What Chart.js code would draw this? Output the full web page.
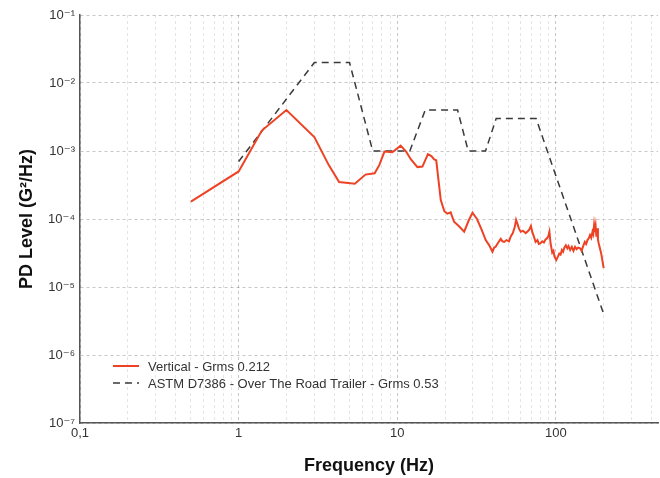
<!DOCTYPE html>
<html>
<head>
<meta charset="utf-8">
<script src="https://cdn.jsdelivr.net/npm/chart.js@4/dist/chart.umd.min.js"></script>
<style>
  html, body { margin: 0; padding: 0; background: #fff; }
  #wrap { width: 660px; height: 478px; }
</style>
</head>
<body>
<div id="wrap"><canvas id="psd"></canvas></div>
<script>
// measured vertical profile
const redFreq = [0.5, 1, 1.4, 2, 3, 3.7, 4.3, 5.4, 6.3, 7.2, 7.7, 8.3, 9.3, 10.5, 11.3, 12.2, 13.4, 14.4,
  15.6, 16.4, 17.1, 17.6, 18.8, 19.8, 20.7, 21.7, 22.8, 24.5, 26.4, 28.2, 29.8, 31.8, 34, 36.1, 38, 39.8,
  40.8, 41.7, 43, 44.9, 46, 47.2, 48.8, 50.6, 52, 53.5, 55, 56.1, 57.5, 58.5, 60, 62, 64.5, 66.5, 68, 69.6,
  71, 72.5, 74.5, 76.5, 78, 80, 82, 84, 86, 87.9, 89.5, 91, 92.5, 94.8, 96.5, 98, 100.5, 103, 105, 107,
  109, 111, 113, 115.5, 118, 120, 123, 126, 129, 132, 135, 138, 142, 145, 148, 152, 155, 158, 161, 164,
  167, 170, 172, 174, 176, 178, 180, 182, 184, 186, 190, 193, 196, 200];
const redPsd = [1.8e-4, 5e-4, 2e-3, 4e-3, 1.6e-3, 6.2e-4, 3.5e-4, 3.3e-4, 4.5e-4, 4.7e-4, 6.2e-4, 9.8e-4, 9.6e-4, 1.2e-3, 1.0e-3, 7.5e-4, 5.8e-4, 5.9e-4,
  9e-4, 8.4e-4, 7.5e-4, 7.3e-4, 1.9e-4, 1.3e-4, 1.2e-4, 1.25e-4, 9.1e-5, 7.8e-5, 6.5e-5, 9.5e-5, 1.24e-4, 1.0e-4, 7e-5, 4.9e-5, 4.1e-5, 3.3e-5,
  3.8e-5, 3.9e-5, 4.4e-5, 5.1e-5, 4.7e-5, 4.6e-5, 4.9e-5, 4.7e-5, 5.6e-5, 6.2e-5, 7.6e-5, 9.7e-5, 8.2e-5, 7.2e-5, 6.5e-5, 6.7e-5, 6.2e-5, 6.6e-5, 7.0e-5, 7.9e-5,
  6.4e-5, 5.6e-5, 4.6e-5, 4.9e-5, 4.3e-5, 4.4e-5, 4.7e-5, 4.5e-5, 5.0e-5, 5.2e-5, 5.6e-5, 6.5e-5, 4.4e-5, 3.2e-5, 3.4e-5, 2.8e-5, 2.5e-5, 2.8e-5, 3.1e-5, 3.0e-5,
  3.5e-5, 3.3e-5, 3.8e-5, 4.1e-5, 3.7e-5, 4.0e-5, 3.5e-5, 3.9e-5, 3.4e-5, 3.9e-5, 3.6e-5, 3.8e-5, 3.7e-5, 3.4e-5, 3.9e-5, 4.6e-5, 4.3e-5, 4.9e-5, 5.2e-5, 5.8e-5,
  5.3e-5, 6.5e-5, 6.0e-5, 8.1e-5, 6.4e-5, 7.8e-5, 5.5e-5, 7.3e-5, 5.0e-5, 4.4e-5, 3.6e-5, 3.1e-5, 2.5e-5, 1.9e-5];

// ASTM D7386 over the road trailer profile
const astmFreq = [1, 3, 5, 7, 12, 15, 24, 28, 36, 42, 75, 200];
const astmPsd = [7e-4, 0.02, 0.02, 0.001, 0.001, 0.004, 0.004, 0.001, 0.001, 0.003, 0.003, 4e-6];

const xTicks = [0.1, 0.2, 0.3, 0.4, 0.5, 0.6, 0.7, 0.8, 0.9, 1, 2, 3, 4, 5, 6, 7, 8, 9,
  10, 20, 30, 40, 50, 60, 70, 80, 90, 100, 200, 300, 400];
const xLabels = { 0.1: "0,1", 1: "1", 10: "10", 100: "100" };
const yTicks = [1e-7, 1e-6, 1e-5, 1e-4, 1e-3, 1e-2, 1e-1];
const yLabels = ["10⁻⁷", "10⁻⁶", "10⁻⁵", "10⁻⁴", "10⁻³", "10⁻²", "10⁻¹"];

const FONT = "'Liberation Sans', 'DejaVu Sans', Arial, sans-serif";

function toPoints(xs, ys) {
  return xs.map((x, i) => ({ x: x, y: ys[i] }));
}

// legend drawn inside the plot, lower left
const innerLegend = {
  id: "innerLegend",
  afterDatasetsDraw(chart) {
    const ctx = chart.ctx;
    const left = chart.chartArea.left + 33;
    const rows = [chart.chartArea.bottom - 57, chart.chartArea.bottom - 40];
    ctx.save();
    chart.data.datasets.forEach((ds, i) => {
      const y = rows[i];
      ctx.beginPath();
      ctx.setLineDash(ds.borderDash || []);
      ctx.strokeStyle = ds.borderColor;
      ctx.lineWidth = ds.borderWidth;
      ctx.moveTo(left, y);
      ctx.lineTo(left + 26, y);
      ctx.stroke();
      ctx.setLineDash([]);
      ctx.fillStyle = "#333";
      ctx.font = "13px " + FONT;
      ctx.textBaseline = "middle";
      ctx.fillText(ds.label, left + 35, y + 1);
    });
    ctx.restore();
  }
};

new Chart(document.getElementById("psd"), {
  type: "line",
  data: {
    datasets: [
      {
        label: "Vertical - Grms 0.212",
        data: toPoints(redFreq, redPsd),
        borderColor: "rgb(238, 66, 36)",
        borderWidth: 2,
        pointRadius: 0,
        tension: 0
      },
      {
        label: "ASTM D7386 - Over The Road Trailer - Grms 0.53",
        data: toPoints(astmFreq, astmPsd),
        borderColor: "#3a3a3a",
        borderWidth: 1.5,
        borderDash: [7, 5],
        pointRadius: 0,
        tension: 0
      }
    ]
  },
  options: {
    responsive: true,
    maintainAspectRatio: false,
    animation: false,
    layout: { padding: { top: 15, right: 2, left: 0, bottom: 0 } },
    plugins: {
      legend: { display: false },
      tooltip: { enabled: false }
    },
    scales: {
      x: {
        type: "logarithmic",
        min: 0.1,
        max: 440,
        afterBuildTicks: (scale) => { scale.ticks = xTicks.map(v => ({ value: v })); },
        afterFit: (scale) => { scale.height = 55; },
        ticks: {
          autoSkip: false,
          maxRotation: 0,
          padding: 3,
          color: "#333",
          font: { family: FONT, size: 13 },
          callback: (v) => xLabels[v] || ""
        },
        grid: {
          drawTicks: false,
          lineWidth: 1,
          color: (c) => (xLabels[c.tick && c.tick.value] ? "rgba(0,0,0,0.22)" : "rgba(0,0,0,0.10)")
        },
        border: { color: "#555", width: 1.5, dash: [3, 3] },
        title: {
          display: true,
          text: "Frequency (Hz)",
          color: "#111",
          font: { family: FONT, size: 18, weight: "bold" },
          padding: { top: 0, bottom: 1 }
        }
      },
      y: {
        type: "logarithmic",
        min: 1e-7,
        max: 1e-1,
        afterBuildTicks: (scale) => { scale.ticks = yTicks.map(v => ({ value: v })); },
        afterFit: (scale) => { scale.width = 80; },
        ticks: {
          autoSkip: false,
          padding: 5,
          color: "#333",
          font: { family: FONT, size: 13 },
          callback: (v) => {
            const i = yTicks.findIndex(t => Math.abs(Math.log10(t) - Math.log10(v)) < 1e-6);
            return i >= 0 ? yLabels[i] : "";
          }
        },
        grid: {
          drawTicks: false,
          lineWidth: 1,
          color: "rgba(0,0,0,0.22)"
        },
        border: { color: "#555", width: 1.5, dash: [3, 3] },
        title: {
          display: true,
          text: "PD Level (G²/Hz)",
          color: "#111",
          font: { family: FONT, size: 18, weight: "bold" },
          padding: { top: 16, bottom: 0 }
        }
      }
    }
  },
  plugins: [innerLegend]
});
</script>
</body>
</html>
